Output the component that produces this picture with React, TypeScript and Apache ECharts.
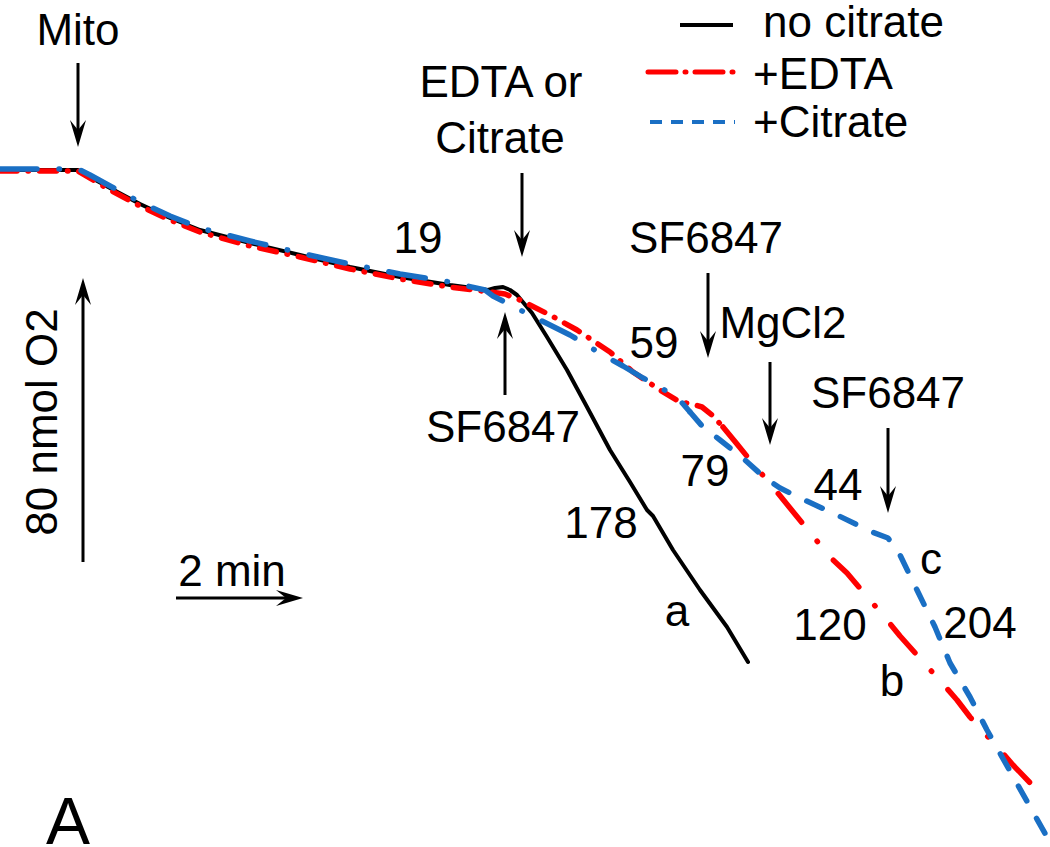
import { useEffect, useRef } from "react";
import * as echarts from "echarts";

// Oxygen traces: [time (chart px units), O2 level (chart px units, downward = consumed)]
const noCitrate: number[][] = [
  [0, 170], [78, 170], [90, 177], [110, 188], [140, 204], [170, 218], [200, 230],
  [250, 243], [300, 255], [350, 267], [400, 277], [450, 285], [488, 290], [495, 288],
  [503, 287], [510, 290], [517, 295], [532, 313], [547, 337], [567, 370], [587, 407],
  [610, 450], [630, 482], [647, 510], [653, 516], [673, 550], [700, 590], [727, 627],
  [748, 662],
];
const edtaEarly: number[][] = [
  [0, 171], [78, 171], [90, 178], [110, 190], [140, 206], [170, 220], [200, 232],
  [250, 246], [300, 257], [350, 269], [400, 279], [450, 287], [490, 292], [505, 294],
  [520, 300], [550, 315], [577, 330], [610, 352], [633, 372], [660, 390], [680, 402],
  [692, 404], [702, 407], [712, 415], [723, 427],
];
const edtaLate: number[][] = [
  [723, 427], [737, 444], [750, 460], [777, 492], [790, 508], [830, 557], [847, 573],
  [887, 620], [900, 636], [943, 684], [957, 700], [970, 717], [1000, 750], [1013, 765],
  [1037, 790],
];
const citrateEarly: number[][] = [
  [0, 169], [78, 169], [90, 175], [110, 186], [140, 202], [170, 216], [200, 228],
  [250, 241], [300, 253], [350, 264], [400, 274], [450, 282], [485, 290], [493, 296],
  [530, 315], [570, 335], [603, 355], [623, 366], [643, 378], [677, 397], [690, 412],
];
const citrateLate: number[][] = [
  [690, 412], [703, 427], [720, 440], [745, 460], [765, 478], [780, 488], [800, 498],
  [837, 515], [872, 532], [888, 538], [900, 555], [917, 590], [935, 627], [950, 663],
  [970, 697], [987, 730], [1015, 780], [1047, 837],
];

const legendNames = ["no citrate", "+EDTA", "+Citrate"];

const FONT = '"Liberation Sans", Arial, Helvetica, sans-serif';

const labels = [
  { text: "Mito", x: 78, y: 29 },
  { text: "EDTA or", x: 501, y: 81 },
  { text: "Citrate", x: 500, y: 137 },
  { text: "19", x: 418, y: 237 },
  { text: "SF6847", x: 503, y: 426 },
  { text: "SF6847", x: 706, y: 237 },
  { text: "59", x: 654, y: 342 },
  { text: "MgCl2", x: 783, y: 322 },
  { text: "79", x: 705, y: 470 },
  { text: "44", x: 838, y: 484 },
  { text: "SF6847", x: 888, y: 392 },
  { text: "c", x: 931, y: 558 },
  { text: "178", x: 601, y: 522 },
  { text: "a", x: 677, y: 610 },
  { text: "120", x: 830, y: 624 },
  { text: "204", x: 980, y: 622 },
  { text: "b", x: 892, y: 680 },
  { text: "2 min", x: 232, y: 570 },
];

// vertical arrows: x, start y, tip y
const vArrows = [
  [78, 63, 147],
  [522, 173, 257],
  [505, 395, 312],
  [708, 273, 358],
  [770, 362, 445],
  [888, 428, 513],
  [83, 562, 278],
];

function vArrow(x: number, y0: number, tip: number) {
  const d = Math.sign(tip - y0);
  return [
    { type: "line", shape: { x1: x, y1: y0, x2: x, y2: tip - d * 14 }, style: { stroke: "#000", lineWidth: 3 } },
    {
      type: "polygon",
      shape: { points: [[x, tip], [x - 8, tip - d * 27], [x, tip - d * 17], [x + 8, tip - d * 27]] },
      style: { fill: "#000" },
    },
  ];
}

function hArrow(y: number, x0: number, tip: number) {
  return [
    { type: "line", shape: { x1: x0, y1: y, x2: tip - 14, y2: y }, style: { stroke: "#000", lineWidth: 3 } },
    {
      type: "polygon",
      shape: { points: [[tip, y], [tip - 27, y - 8], [tip - 17, y], [tip - 27, y + 8]] },
      style: { fill: "#000" },
    },
  ];
}

export default function App() {
  const ref = useRef<HTMLDivElement>(null);
  useEffect(() => {
    if (!ref.current) return;
    const chart = echarts.init(ref.current, null, { renderer: "svg" });
    const RED = "#ff0000";
    const BLUE = "#1a6fc4";
    const lineSeries = (name: string, data: number[][], color: string, width: number, type: any, z: number) => ({
      type: "line",
      name,
      data,
      showSymbol: false,
      symbol: "none",
      silent: true,
      z,
      lineStyle: { color, width, type, cap: "round", join: "round" },
    });

    const graphic: any[] = [];
    labels.forEach((l) =>
      graphic.push({
        type: "text",
        x: l.x,
        y: l.y,
        style: { text: l.text, fill: "#000", fontSize: 44, fontFamily: FONT, align: "center", verticalAlign: "middle" },
      })
    );
    graphic.push({
      type: "text",
      x: 41,
      y: 422,
      rotation: Math.PI / 2,
      style: { text: "80 nmol O2", fill: "#000", fontSize: 44, fontFamily: FONT, align: "center", verticalAlign: "middle" },
    });
    graphic.push({
      type: "text",
      x: 68,
      y: 821,
      style: { text: "A", fill: "#000", fontSize: 66, fontFamily: FONT, align: "center", verticalAlign: "middle" },
    });
    vArrows.forEach((a) => graphic.push(...vArrow(a[0], a[1], a[2])));
    graphic.push(...hArrow(598, 176, 303));

    // legend
    graphic.push({ type: "line", shape: { x1: 680, y1: 25, x2: 733, y2: 25 }, style: { stroke: "#000", lineWidth: 4 } });
    graphic.push({
      type: "line",
      shape: { x1: 648, y1: 72, x2: 735, y2: 72 },
      style: { stroke: RED, lineWidth: 5, lineDash: [28, 9, 1, 9], lineCap: "round" },
    });
    graphic.push({
      type: "line",
      shape: { x1: 650, y1: 122, x2: 735, y2: 122 },
      style: { stroke: BLUE, lineWidth: 4, lineDash: [12, 9] },
    });
    const legendPos = [
      [763, 21],
      [753, 73],
      [753, 121],
    ];
    legendNames.forEach((n, i) =>
      graphic.push({
        type: "text",
        x: legendPos[i][0],
        y: legendPos[i][1],
        style: { text: n, fill: "#000", fontSize: 44, fontFamily: FONT, align: "left", verticalAlign: "middle" },
      })
    );

    chart.setOption({
      animation: false,
      backgroundColor: "#ffffff",
      grid: { left: 0, right: 0, top: 0, bottom: 0 },
      xAxis: { type: "value", min: 0, max: 1050, show: false },
      yAxis: { type: "value", min: 0, max: 847, inverse: true, show: false },
      series: [
        lineSeries(legendNames[0], noCitrate, "#000000", 4, "solid", 2),
        lineSeries(legendNames[1], edtaEarly, RED, 5.5, [17, 11, 0.5, 11], 3),
        lineSeries(legendNames[1], edtaLate, RED, 5.5, [37, 24.5, 0.5, 24.5], 3),
        lineSeries(legendNames[2], citrateEarly, BLUE, 5.5, [37, 22, 0.5, 22], 4),
        lineSeries(legendNames[2], citrateLate, BLUE, 5.5, [17, 20], 4),
      ],
      graphic,
    });
    return () => chart.dispose();
  }, []);
  return (
    <div
      ref={ref}
      style={{ position: "fixed", left: 0, top: 0, width: 1050, height: 847, background: "#fff" }}
    />
  );
}
